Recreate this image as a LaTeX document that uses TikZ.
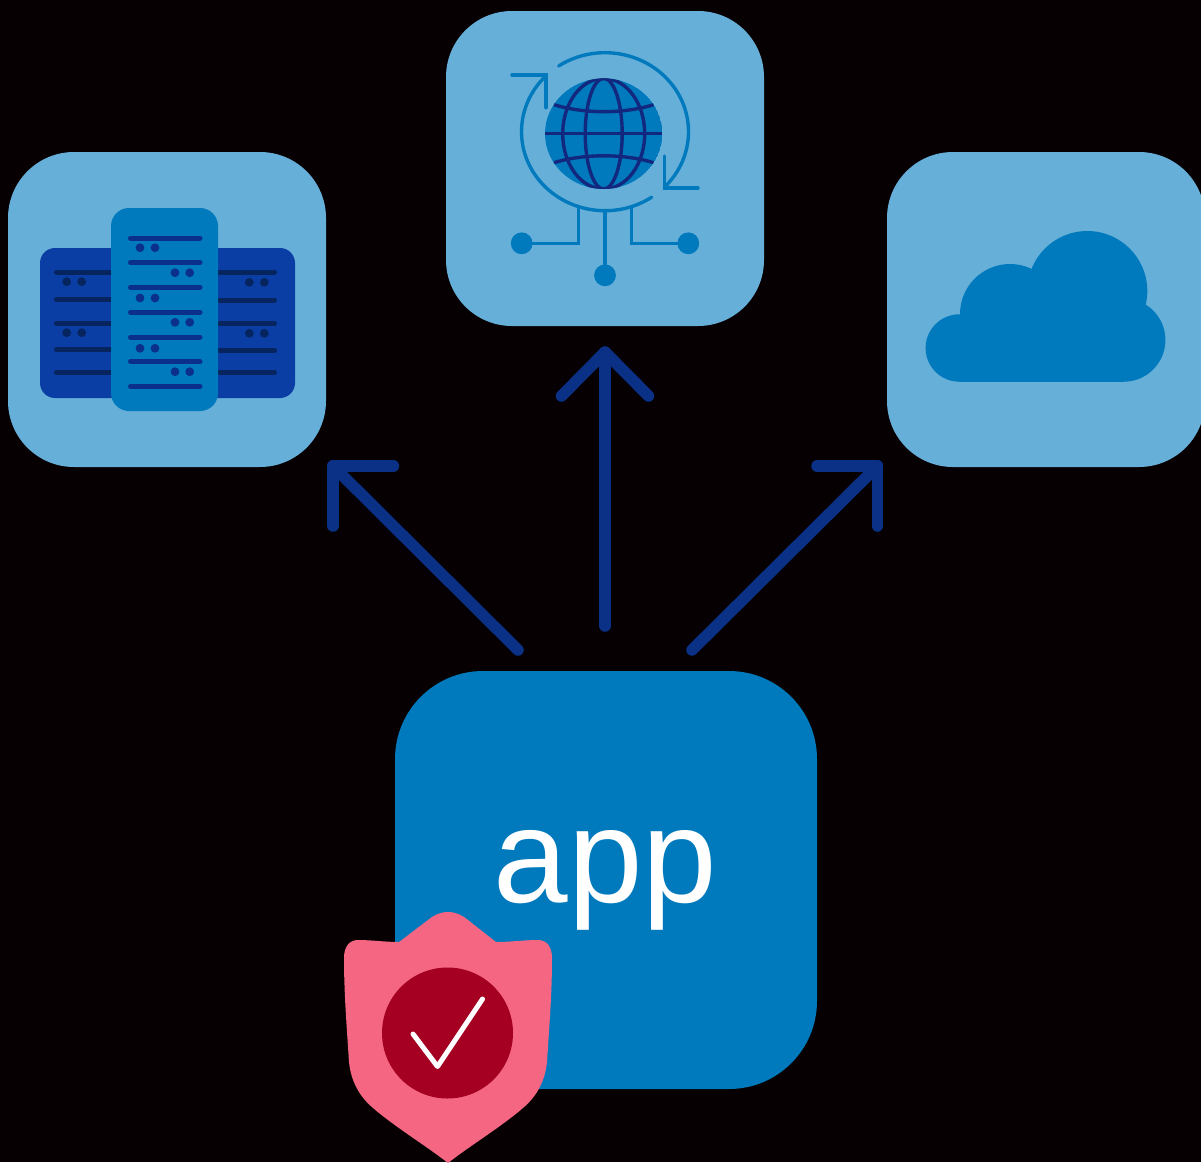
\documentclass[tikz,border=0pt]{standalone}
\usepackage{fontspec}
\setmainfont{Liberation Sans}
\definecolor{bgk}{HTML}{060002}
\definecolor{tilec}{HTML}{66AFD8}
\definecolor{midb}{HTML}{007ABD}
\definecolor{rackb}{HTML}{0B3EA5}
\definecolor{arrowb}{HTML}{0A3185}
\definecolor{lined}{HTML}{06245E}
\definecolor{linec}{HTML}{0B308C}
\definecolor{globel}{HTML}{12287F}
\definecolor{shieldc}{HTML}{F46682}
\definecolor{redc}{HTML}{A50021}
\tikzset{
  x=1pt,y=-1pt,
  tile/.style={rectangle,fill=tilec,inner sep=0pt,minimum width=318pt,minimum height=315pt,rounded corners=66pt},
  appbox/.style={rectangle,fill=midb,inner sep=0pt,minimum width=422pt,minimum height=418pt,rounded corners=88pt},
  flow/.style={draw=arrowb,line width=11.5pt,line cap=round,line join=round},
  rackline/.style={line width=5pt,line cap=round},
  ringline/.style={draw=midb,line width=3.4pt,line cap=round,line join=miter},
  gridline/.style={draw=globel,line width=3.4pt}
}
\begin{document}
\begin{tikzpicture}
\useasboundingbox (0,0) rectangle (1201,1162);
\clip (0,0) rectangle (1201,1162);
\fill[bgk] (0,0) rectangle (1201,1162);

% tiles
\node[tile] (servers) at (167,309.5) {};
\node[tile] (globe) at (605,168.5) {};
\node[tile] (cloud) at (1046,309.5) {};
\node[appbox] (app) at (606,880) {};
\node[text=white,font=\fontsize{134}{134}\selectfont,inner sep=0pt,anchor=base] (applabel) at (605.5,902.5) {app};

% connector ends
\coordinate (a1s) at (518,650);
\coordinate (a1e) at (333,466);
\coordinate (a1p) at (393.5,466);
\coordinate (a1q) at (333,526);
\coordinate (a2s) at (605,626);
\coordinate (a2e) at (605,352);
\coordinate (a2p) at (561.5,396);
\coordinate (a2q) at (648.5,396);
\coordinate (a3s) at (692,650);
\coordinate (a3e) at (877.5,466);
\coordinate (a3p) at (817,466);
\coordinate (a3q) at (877.5,526);
\draw[flow] (a1s) -- (a1e);
\draw[flow] (a1p) -- (a1e) -- (a1q);
\draw[flow] (a2s) -- (a2e);
\draw[flow] (a2p) -- (a2e) -- (a2q);
\draw[flow] (a3s) -- (a3e);
\draw[flow] (a3p) -- (a3e) -- (a3q);

% servers
\fill[rackb] (40,248) [rounded corners=15pt] rectangle (295,398);
\foreach \y in {272,299.3,323,349.7,372.3}
  \draw[lined,rackline] (56.5,\y) -- (120,\y);
\foreach \y in {272.3,300,323.3,350.3,372.7}
  \draw[lined,rackline] (210,\y) -- (274.5,\y);
\foreach \y in {281.7,332.7}{
  \fill[lined] (66.7,\y) circle[radius=4.4pt];
  \fill[lined] (81.7,\y) circle[radius=4.4pt];}
\foreach \y in {282.3,333.3}{
  \fill[lined] (249.3,\y) circle[radius=4.4pt];
  \fill[lined] (264.3,\y) circle[radius=4.4pt];}
\fill[midb] (111,208) [rounded corners=18pt] rectangle (218,411);
\foreach \y in {238,262.7,287.3,312.3,337,361.7,386.3}
  \draw[linec,rackline] (130.5,\y) -- (200,\y);
\foreach \y in {247.7,298,348.3}{
  \fill[linec] (140,\y) circle[radius=4.4pt];
  \fill[linec] (155,\y) circle[radius=4.4pt];}
\foreach \y in {272.7,322.3,371.7}{
  \fill[linec] (175,\y) circle[radius=4.4pt];
  \fill[linec] (189.7,\y) circle[radius=4.4pt];}

% globe icon
\coordinate (gc) at (603.7,133.7);
\coordinate (rc) at (605,131.7);
\begin{scope}
  \clip (gc) ellipse[x radius=58.7pt,y radius=55.3pt];
  \fill[midb] (gc) ellipse[x radius=58.7pt,y radius=55.3pt];
  \draw[gridline] (gc) ellipse[x radius=18.5pt,y radius=55.3pt];
  \draw[gridline] (gc) ellipse[x radius=41pt,y radius=55.3pt];
  \draw[gridline] (545,133.7) -- (663,133.7);
  \draw[gridline] (554,104.7) .. controls (584,114) and (624,114) .. (653.5,104.7);
  \draw[gridline] (554,162.7) .. controls (584,153.5) and (624,153.5) .. (653.5,162.7);
\end{scope}
\draw[ringline] ([shift={(123.7:83.5pt and 79pt)}]rc) arc[start angle=123.7,end angle=-44,x radius=83.5pt,y radius=79pt];
\draw[ringline] ([shift={(134.6:83.5pt and 79pt)}]rc) arc[start angle=134.6,end angle=304,x radius=83.5pt,y radius=79pt];
\draw[ringline] (512,75) -- (546,75) -- (546,107.7);
\draw[ringline] (698,188) -- (664.3,188) -- (664.3,156);
\draw[ringline] (605,211) -- (605,275);
\draw[ringline] (578.3,208) -- (578.3,243.3) -- (522,243.3);
\draw[ringline] (631.7,208) -- (631.7,243.3) -- (688,243.3);
\fill[midb] (521.7,243.3) circle[radius=10.9pt];
\fill[midb] (688.3,243.3) circle[radius=10.9pt];
\fill[midb] (605,275.3) circle[radius=10.9pt];

% cloud icon
\fill[midb] (959.3,348) circle[radius=33.7pt];
\fill[midb] (1010,314) circle[radius=50pt];
\fill[midb] (1087.3,291) circle[radius=60pt];
\fill[midb] (1123.7,340) circle[radius=41.7pt];
\fill[midb] (959.3,315) rectangle (1124,381.7);

% shield
\fill[shieldc] (448,912)
  .. controls (440,912) and (434,915) .. (428,920)
  -- (399,942)
  .. controls (385,942) and (372,940) .. (358,940)
  .. controls (349,940) and (344,947) .. (344,958)
  .. controls (344,995) and (347,1030) .. (349,1062)
  .. controls (351,1082) and (360,1097) .. (373,1108)
  .. controls (395,1127) and (425,1145) .. (448,1163)
  .. controls (471,1145) and (501,1127) .. (523,1108)
  .. controls (536,1097) and (545,1082) .. (547,1062)
  .. controls (549,1030) and (552,995) .. (552,958)
  .. controls (552,947) and (547,940) .. (538,940)
  .. controls (524,940) and (511,942) .. (496,942)
  -- (468,920)
  .. controls (462,915) and (456,912) .. (448,912) -- cycle;
\fill[redc] (447.5,1033) circle[radius=65.5pt];
\draw[white,line width=5pt,line cap=round,line join=round] (413,1034) -- (437.5,1066.5) -- (482.5,999);
\end{tikzpicture}
\end{document}
